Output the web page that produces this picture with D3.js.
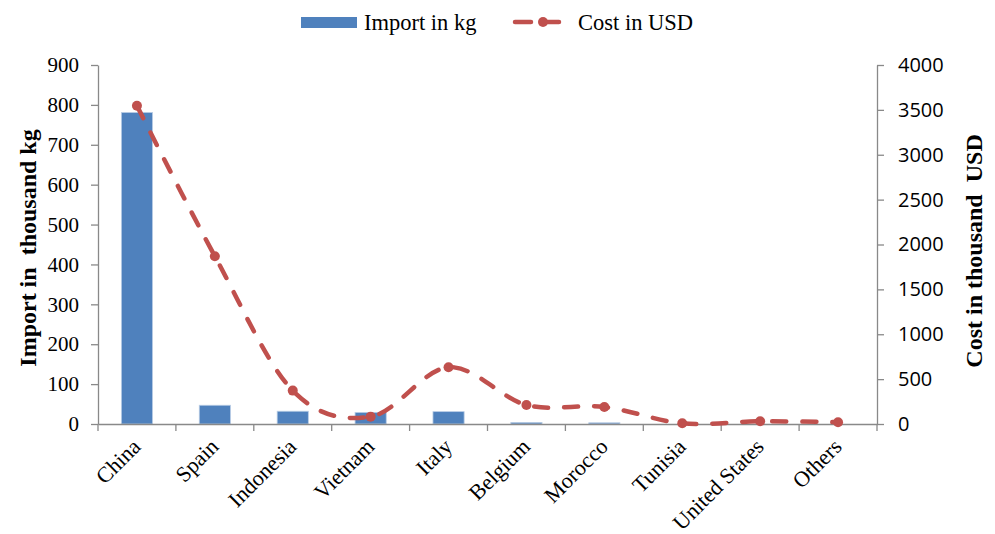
<!DOCTYPE html>
<html>
<head>
<meta charset="utf-8">
<script src="https://cdn.jsdelivr.net/npm/d3@7"></script>
<style>
  body { margin: 0; background: #fff; }
  svg { display: block; }
</style>
</head>
<body>
<script>
const countries = ['China', 'Spain', 'Indonesia', 'Vietnam', 'Italy', 'Belgium', 'Morocco', 'Tunisia', 'United States', 'Others'];
const importKg = [781, 47, 32, 29, 31, 4, 3, 0, 0, 0];
const costUsd = [3545, 1870, 372, 82, 632, 212, 190, 8, 30, 20];
const leftTicks = [0, 100, 200, 300, 400, 500, 600, 700, 800, 900];
const rightTicks = [0, 500, 1000, 1500, 2000, 2500, 3000, 3500, 4000];

const width = 995, height = 534;
const margin = { top: 65, right: 120, bottom: 110, left: 98 };
const serif = '"Liberation Serif", "Times New Roman", serif';
const sans = '"Open Sans", "Noto Sans", sans-serif';
const axisColor = '#898989';
const barColor = '#4f81bd';
const lineColor = '#c0504d';

const svg = d3.select('body').append('svg')
  .attr('width', width)
  .attr('height', height);

// scales
const x = d3.scaleBand().domain(countries)
  .range([margin.left, width - margin.right + 2]);
const yL = d3.scaleLinear().domain([0, 900]).range([height - margin.bottom, margin.top]);
const yR = d3.scaleLinear().domain([0, 4000]).range([height - margin.bottom, margin.top]);
const cx = d => x(d) + x.bandwidth() / 2;
const barW = x.bandwidth() / 2.5;

// bars
svg.append('g')
  .selectAll('rect')
  .data(countries)
  .join('rect')
  .attr('x', (d) => cx(d) - barW / 2)
  .attr('y', (d, i) => yL(importKg[i]))
  .attr('width', barW)
  .attr('height', (d, i) => yL(0) - yL(importKg[i]))
  .attr('fill', barColor)
  .attr('stroke', '#b9cde5')
  .attr('stroke-width', 0.8);

// axes
const x0 = x.range()[0], x1 = x.range()[1];
const gL = svg.append('g')
  .attr('transform', `translate(${x0},0)`)
  .call(d3.axisLeft(yL).tickValues(leftTicks).tickSize(7).tickPadding(12).tickSizeOuter(0));
gL.selectAll('text').attr('font-family', serif).attr('font-size', 21).attr('fill', '#000');

const gR = svg.append('g')
  .attr('transform', `translate(${x1},0)`)
  .call(d3.axisRight(yR).tickValues(rightTicks).tickFormat(d3.format('d'))
    .tickSize(7).tickPadding(14).tickSizeOuter(0));
gR.selectAll('text').attr('font-family', sans).attr('font-size', 20).attr('fill', '#000');

const gX = svg.append('g')
  .attr('transform', `translate(0,${yL(0)})`)
  .call(d3.axisBottom(x).tickSize(0).tickSizeOuter(0).tickFormat(''));
// boundary ticks like Excel (between categories)
gX.selectAll('.tick').remove();
gX.selectAll('line.b')
  .data(countries.map(c => x(c)).concat([x1]))
  .join('line')
  .attr('class', 'b')
  .attr('x1', d => d).attr('x2', d => d)
  .attr('y1', 0).attr('y2', 7);

[gL, gR, gX].forEach(g => {
  g.selectAll('.domain, line').attr('stroke', axisColor).attr('stroke-width', 1.3);
});

// x labels
svg.append('g')
  .selectAll('text')
  .data(countries)
  .join('text')
  .attr('transform', d => `translate(${cx(d) + 5},${yL(0) + 24}) rotate(-45)`)
  .attr('text-anchor', 'end')
  .attr('font-family', serif)
  .attr('font-size', 22)
  .text(d => d);

// line
const line = d3.line()
  .x((d, i) => cx(countries[i]))
  .y(d => yR(d))
  .curve(d3.curveCardinal.tension(0));

svg.append('path')
  .datum(costUsd)
  .attr('d', line)
  .attr('fill', 'none')
  .attr('stroke', lineColor)
  .attr('stroke-width', 4.5)
  .attr('stroke-linecap', 'round')
  .attr('stroke-dasharray', '14 16');

svg.append('g')
  .selectAll('circle')
  .data(costUsd)
  .join('circle')
  .attr('cx', (d, i) => cx(countries[i]))
  .attr('cy', d => yR(d))
  .attr('r', 5)
  .attr('fill', lineColor);

// axis titles
svg.append('text')
  .attr('transform', `translate(36,248) rotate(-90)`)
  .attr('text-anchor', 'middle')
  .attr('font-family', serif)
  .attr('font-weight', 'bold')
  .attr('font-size', 24)
  .attr('xml:space', 'preserve')
  .text('Import in  thousand kg');

svg.append('text')
  .attr('transform', `translate(982,251) rotate(-90)`)
  .attr('text-anchor', 'middle')
  .attr('font-family', serif)
  .attr('font-weight', 'bold')
  .attr('font-size', 24)
  .attr('xml:space', 'preserve')
  .text('Cost in thousand  USD');

// legend
const lg = svg.append('g');
lg.append('rect')
  .attr('x', 301).attr('y', 17).attr('width', 56).attr('height', 11)
  .attr('fill', barColor);
lg.append('text')
  .attr('x', 364).attr('y', 30)
  .attr('font-family', serif).attr('font-size', 22.5)
  .text('Import in kg');
lg.append('line')
  .attr('x1', 515).attr('x2', 566).attr('y1', 22).attr('y2', 22)
  .attr('stroke', lineColor).attr('stroke-width', 4.5)
  .attr('stroke-linecap', 'round')
  .attr('stroke-dasharray', '16 12');
lg.append('circle')
  .attr('cx', 543).attr('cy', 22).attr('r', 5).attr('fill', lineColor);
lg.append('text')
  .attr('x', 578).attr('y', 30)
  .attr('font-family', serif).attr('font-size', 22.5)
  .text('Cost in USD');
</script>
</body>
</html>
